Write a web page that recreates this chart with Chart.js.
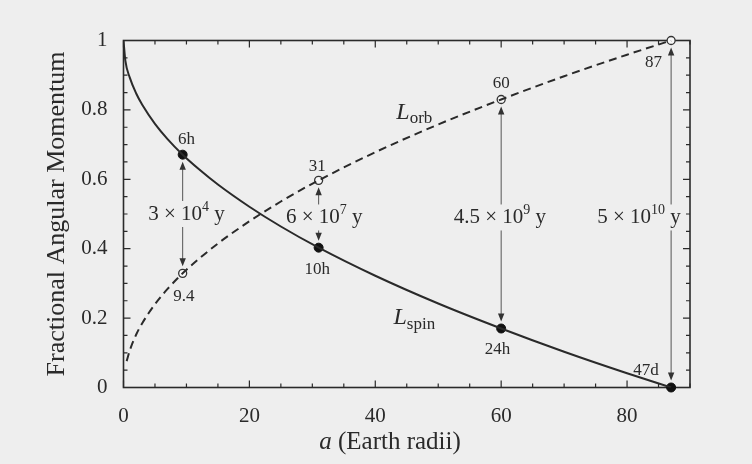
<!DOCTYPE html>
<html><head><meta charset="utf-8">
<script src="https://cdn.jsdelivr.net/npm/chart.js@4.4.0/dist/chart.umd.min.js"></script>
<style>html,body{margin:0;padding:0;background:#eeeeee;}</style>
</head><body>
<canvas id="c" width="752" height="464"></canvas>
<script>
// ---- data ----
const spinA = [0, 0.3, 1, 2, 3, 5, 7, 9.4, 12, 15, 20, 25, 31, 40, 50, 60, 70, 80, 87];
const spinL = [1.0, 0.941, 0.893, 0.848, 0.814, 0.760, 0.716, 0.671, 0.629, 0.585, 0.521, 0.464, 0.403, 0.322, 0.242, 0.170, 0.103, 0.041, 0.0];
const orbA = [0.5, 1, 2, 3, 5, 7, 9.4, 12, 15, 20, 25, 31, 40, 50, 60, 70, 80, 87];
const orbL = [0.076, 0.107, 0.152, 0.186, 0.240, 0.284, 0.329, 0.371, 0.415, 0.479, 0.536, 0.597, 0.678, 0.758, 0.830, 0.897, 0.959, 1.0];
const markA = [9.4, 31, 60, 87];
const markSpin = [0.671, 0.403, 0.170, 0.0];
const markOrb = [0.329, 0.597, 0.830, 1.0];
const spinMarkLabels = ['6h', '10h', '24h', '47d'];
const orbMarkLabels = ['9.4', '31', '60', '87'];
const timeBase = ['3 × 10', '6 × 10', '4.5 × 10', '5 × 10'];
const timeExp = ['4', '7', '9', '10'];
const xTickValues = [0, 20, 40, 60, 80];
const xTickLabels = ['0', '20', '40', '60', '80'];
const yTickValues = [0, 0.2, 0.4, 0.6, 0.8, 1];
const yTickLabels = ['0', '0.2', '0.4', '0.6', '0.8', '1'];
const xTitleItalic = 'a';
const xTitleRest = ' (Earth radii)';
const yTitle = 'Fractional Angular Momentum';
const seriesNames = ['L', 'spin', 'orb'];

// ---- layout of annotations (data coordinates) ----
const spinLabelPos = [[10, 0.715], [30.8, 0.34], [59.4, 0.11], [83, 0.05]];
const orbLabelPos = [[9.6, 0.262], [30.8, 0.637], [60, 0.877], [84.2, 0.937]];
const timePos = [[10, 0.50], [31.9, 0.49], [59.8, 0.49], [81.9, 0.49]];
const spinNamePos = [46.2, 0.20];
const orbNamePos = [46.2, 0.793];

const INK = '#2a2a2a';
const PAPER = '#eeeeee';
const SERIF = '"Liberation Serif", "DejaVu Serif", serif';

const pts = (xs, ys) => xs.map((x, i) => ({x: x, y: ys[i]}));
const findLabel = (vals, labs, v) => {
  const i = vals.findIndex(t => Math.abs(t - v) < 1e-6);
  return i >= 0 ? labs[i] : '';
};

function drawRich(ctx, segs, cx, cy) {
  let w = 0;
  segs.forEach(s => { ctx.font = s.font; s.w = ctx.measureText(s.t).width; w += s.w; });
  let x = cx - w / 2;
  ctx.textAlign = 'left';
  ctx.textBaseline = 'middle';
  segs.forEach(s => { ctx.font = s.font; ctx.fillText(s.t, x, cy + (s.dy || 0)); x += s.w; });
  return w;
}

const figPlugin = {
  id: 'fig',
  beforeDraw(chart) {
    const ctx = chart.ctx;
    ctx.save();
    ctx.fillStyle = PAPER;
    ctx.fillRect(0, 0, chart.width, chart.height);
    ctx.restore();
  },
  beforeDatasetsDraw(chart) {
    const ctx = chart.ctx, a = chart.chartArea;
    const xs = chart.scales.x, ys = chart.scales.y;
    ctx.save();
    ctx.strokeStyle = INK;
    ctx.lineWidth = 1.6;
    ctx.strokeRect(a.left, a.top, a.right - a.left, a.bottom - a.top);
    ctx.lineWidth = 1.2;
    ctx.beginPath();
    xs.ticks.forEach(t => {
      const px = xs.getPixelForValue(t.value);
      const L = findLabel(xTickValues, xTickLabels, t.value) ? 7 : 4;
      ctx.moveTo(px, a.bottom); ctx.lineTo(px, a.bottom - L);
      ctx.moveTo(px, a.top); ctx.lineTo(px, a.top + L);
    });
    ys.ticks.forEach(t => {
      const py = ys.getPixelForValue(t.value);
      const L = findLabel(yTickValues, yTickLabels, t.value) ? 7 : 4;
      ctx.moveTo(a.left, py); ctx.lineTo(a.left + L, py);
      ctx.moveTo(a.right, py); ctx.lineTo(a.right - L, py);
    });
    ctx.stroke();
    ctx.restore();
  },
  afterDatasetsDraw(chart) {
    const ctx = chart.ctx;
    const xs = chart.scales.x, ys = chart.scales.y;
    ctx.save();
    ctx.fillStyle = INK;
    // timescale arrows
    markA.forEach((m, i) => {
      const px = xs.getPixelForValue(m);
      const up = Math.max(markSpin[i], markOrb[i]);
      const lo = Math.min(markSpin[i], markOrb[i]);
      const yTop = ys.getPixelForValue(up) + 7;
      const yBot = ys.getPixelForValue(lo) - 7;
      const tcx = xs.getPixelForValue(timePos[i][0]);
      const tcy = ys.getPixelForValue(timePos[i][1]);
      const segs = [
        {t: timeBase[i], font: '21px ' + SERIF},
        {t: timeExp[i], font: '14px ' + SERIF, dy: -7},
        {t: ' y', font: '21px ' + SERIF}
      ];
      let w = 0;
      segs.forEach(s => { ctx.font = s.font; w += ctx.measureText(s.t).width; });
      const overlap = Math.abs(px - tcx) < w / 2 + 2;
      ctx.strokeStyle = '#555';
      ctx.lineWidth = 1;
      ctx.beginPath();
      if (overlap) {
        ctx.moveTo(px, yTop + 6); ctx.lineTo(px, tcy - 13);
        ctx.moveTo(px, tcy + 13); ctx.lineTo(px, yBot - 6);
      } else {
        ctx.moveTo(px, yTop + 6); ctx.lineTo(px, yBot - 6);
      }
      ctx.stroke();
      ctx.fillStyle = '#333';
      ctx.beginPath();
      ctx.moveTo(px, yTop); ctx.lineTo(px - 3.2, yTop + 8); ctx.lineTo(px + 3.2, yTop + 8); ctx.closePath();
      ctx.moveTo(px, yBot); ctx.lineTo(px - 3.2, yBot - 8); ctx.lineTo(px + 3.2, yBot - 8); ctx.closePath();
      ctx.fill();
      ctx.fillStyle = INK;
      drawRich(ctx, segs, tcx, tcy);
    });
    // marker labels
    ctx.font = '17px ' + SERIF;
    ctx.textAlign = 'center';
    ctx.textBaseline = 'middle';
    spinMarkLabels.forEach((t, i) => {
      ctx.fillText(t, xs.getPixelForValue(spinLabelPos[i][0]), ys.getPixelForValue(spinLabelPos[i][1]));
    });
    orbMarkLabels.forEach((t, i) => {
      ctx.fillText(t, xs.getPixelForValue(orbLabelPos[i][0]), ys.getPixelForValue(orbLabelPos[i][1]));
    });
    // series names
    drawRich(ctx, [
      {t: seriesNames[0], font: 'italic 24px ' + SERIF},
      {t: seriesNames[1], font: '17px ' + SERIF, dy: 6}
    ], xs.getPixelForValue(spinNamePos[0]), ys.getPixelForValue(spinNamePos[1]));
    drawRich(ctx, [
      {t: seriesNames[0], font: 'italic 24px ' + SERIF},
      {t: seriesNames[2], font: '17px ' + SERIF, dy: 6}
    ], xs.getPixelForValue(orbNamePos[0]), ys.getPixelForValue(orbNamePos[1]));
    // axis titles
    drawRich(ctx, [
      {t: xTitleItalic, font: 'italic 25px ' + SERIF},
      {t: xTitleRest, font: '25px ' + SERIF}
    ], 390, 442);
    ctx.save();
    ctx.translate(57, 214);
    ctx.rotate(-Math.PI / 2);
    ctx.font = '26px ' + SERIF;
    ctx.textAlign = 'center';
    ctx.textBaseline = 'middle';
    ctx.fillText(yTitle, 0, 0);
    ctx.restore();
    ctx.restore();
  }
};

new Chart(document.getElementById('c'), {
  type: 'scatter',
  data: {
    datasets: [
      {
        label: 'L spin', data: pts(spinA, spinL), showLine: true,
        borderColor: INK, borderWidth: 2, pointRadius: 0,
        cubicInterpolationMode: 'monotone', tension: 0.4
      },
      {
        label: 'L orb', data: pts(orbA, orbL), showLine: true,
        borderColor: INK, borderWidth: 2, borderDash: [8, 5], pointRadius: 0,
        cubicInterpolationMode: 'monotone', tension: 0.4
      },
      {
        label: 'spin marks', data: pts(markA, markSpin), showLine: false,
        pointRadius: 4.5, pointBackgroundColor: '#111', pointBorderColor: '#111',
        pointBorderWidth: 1, clip: false
      },
      {
        label: 'orb marks', data: pts(markA, markOrb), showLine: false,
        pointRadius: 4, pointBackgroundColor: '#f7f7f7', pointBorderColor: '#333',
        pointBorderWidth: 1.3, clip: false
      }
    ]
  },
  options: {
    responsive: false,
    animation: false,
    devicePixelRatio: 1,
    layout: {padding: {left: 0, top: 40.5, right: 62, bottom: 0}},
    plugins: {legend: {display: false}, tooltip: {enabled: false}},
    scales: {
      x: {
        type: 'linear', min: 0, max: 90,
        grid: {display: false}, border: {display: false},
        ticks: {
          stepSize: 5, autoSkip: false, maxRotation: 0, padding: 8,
          color: INK, font: {family: SERIF, size: 21},
          callback: v => findLabel(xTickValues, xTickLabels, v)
        },
        afterFit: s => { s.height = 76.5; }
      },
      y: {
        type: 'linear', min: 0, max: 1,
        grid: {display: false}, border: {display: false},
        ticks: {
          stepSize: 0.05, autoSkip: false, padding: 8,
          color: INK, font: {family: SERIF, size: 21},
          callback: v => findLabel(yTickValues, yTickLabels, v)
        },
        afterFit: s => { s.width = 123.5; }
      }
    }
  },
  plugins: [figPlugin]
});
</script>
</body></html>
